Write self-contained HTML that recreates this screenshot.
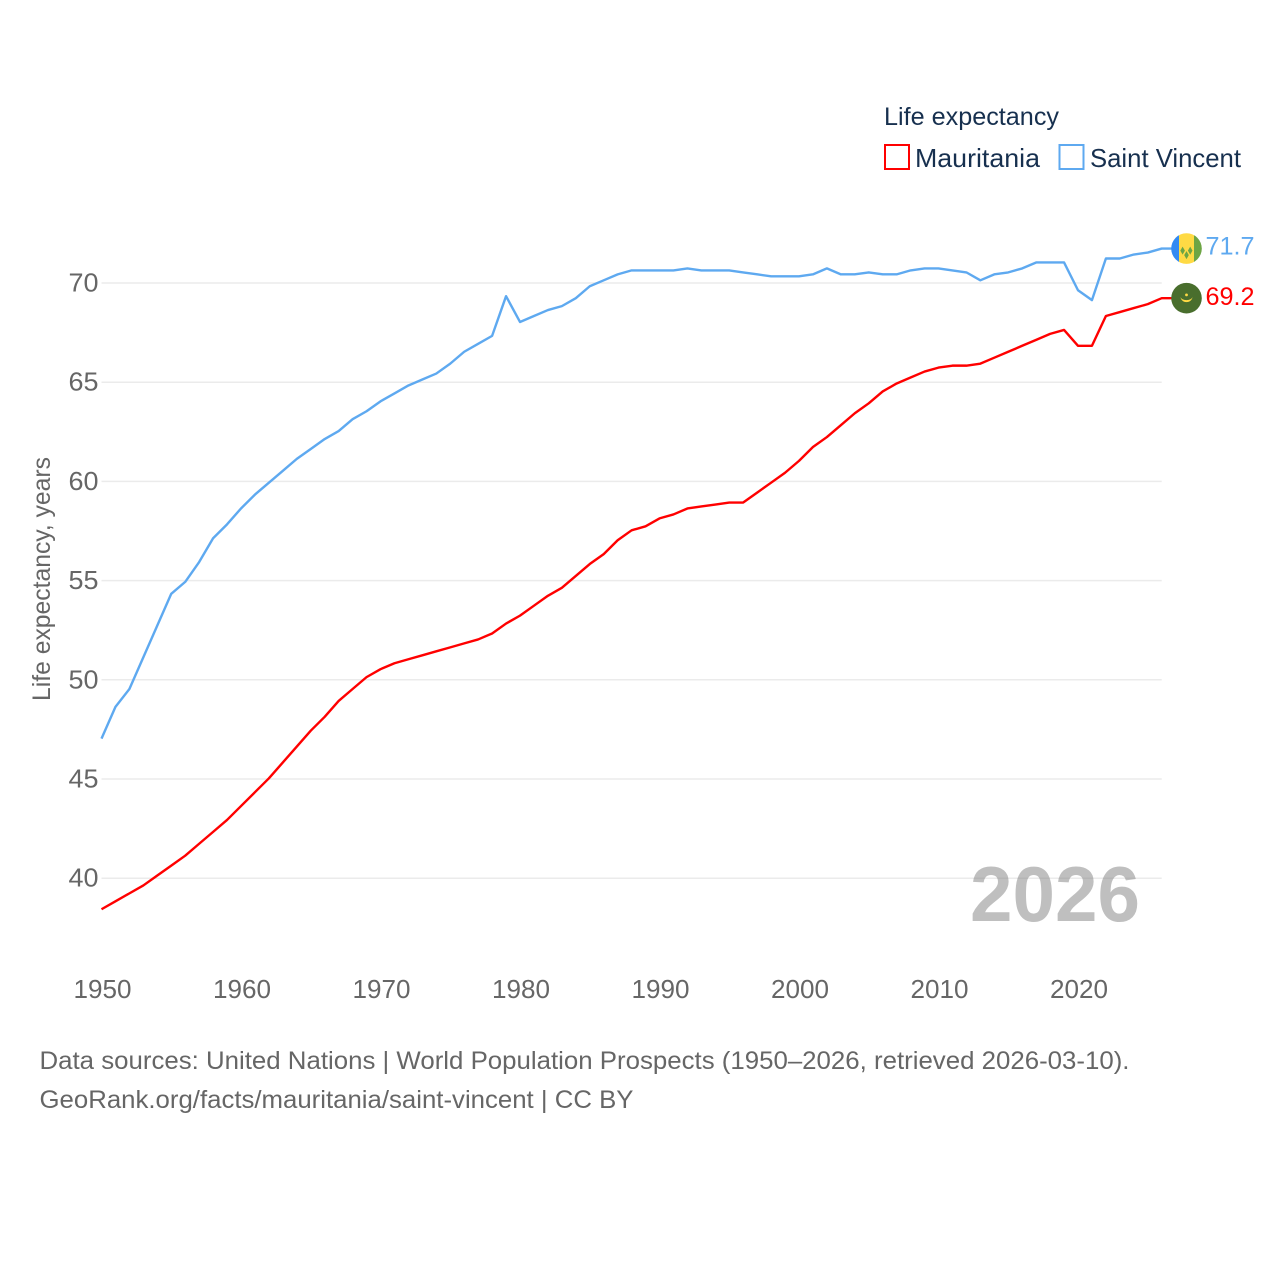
<!DOCTYPE html>
<html lang="en">
<head>
<meta charset="utf-8">
<title>Life expectancy: Mauritania and Saint Vincent</title>
<style>
html,body{margin:0;padding:0;background:#fff}
svg{display:block}
text{font-family:"Liberation Sans",sans-serif}
</style>
</head>
<body>
<svg id="chart" xmlns="http://www.w3.org/2000/svg" width="1280" height="1280" viewBox="0 0 1280 1280">
  <rect width="1280" height="1280" fill="#fff"/>
  <g id="gridlines"></g>
  <g id="y-ticks"></g>
  <g id="x-ticks"></g>
  <text transform="translate(50,701) rotate(-90)" font-size="25" fill="#666" textLength="244" lengthAdjust="spacingAndGlyphs">Life expectancy, years</text>
  <text x="970" y="921" font-size="78" font-weight="bold" fill="#7f7f7f" fill-opacity="0.5" textLength="170" lengthAdjust="spacingAndGlyphs">2026</text>
  <g id="series" transform="translate(0,-0.7)"></g>

  <g id="flag-sv">
    <clipPath id="sv-clip"><circle cx="0" cy="0" r="15.300"/></clipPath>
    <g clip-path="url(#sv-clip)">
      <rect x="-16" y="-16" width="8.500" height="32" fill="#338af3"/>
      <rect x="-7.500" y="-16" width="15" height="32" fill="#ffda44"/>
      <rect x="7.500" y="-16" width="8.500" height="32" fill="#6da544"/>
      <path d="M-6.200 2l2.300-4 2.300 4-2.300 4zM1.400 2l2.300-4 2.300 4-2.300 4zM-2.300 6.500l2.300-4 2.300 4-2.300 4z" fill="#6da544"/>
    </g>
  </g>
  <g id="flag-mr">
    <circle cx="0" cy="0" r="15.300" fill="#496e2d"/>
    <path d="M-6 -1.500a6 5.500 0 0 0 12 0a6 3.400 0 0 1 -12 0z" fill="#ffda44"/>
    <circle cx="0" cy="-3.300" r="1.400" fill="#ffda44"/>
  </g>
  <g id="end-labels"></g>

  <g>
    <text x="884" y="125" font-size="25" fill="#17304f" textLength="175" lengthAdjust="spacingAndGlyphs">Life expectancy</text>
    <g>
      <rect x="885" y="145" width="24" height="24" fill="#fff" stroke="#ff0000" stroke-width="2"/>
      <text x="915" y="167" font-size="26" fill="#17304f" textLength="125" lengthAdjust="spacingAndGlyphs">Mauritania</text>
    </g>
    <g>
      <rect x="1059.500" y="145" width="24" height="24" fill="#fff" stroke="#5ea9f0" stroke-width="2"/>
      <text x="1090" y="167" font-size="26" fill="#17304f" textLength="151" lengthAdjust="spacingAndGlyphs">Saint Vincent</text>
    </g>
  </g>

  <text x="39.500" y="1069" font-size="25" fill="#666" textLength="1090" lengthAdjust="spacingAndGlyphs">Data sources: United Nations | World Population Prospects (1950–2026, retrieved 2026-03-10).</text>
  <text x="39.500" y="1108" font-size="25" fill="#666" textLength="594" lengthAdjust="spacingAndGlyphs">GeoRank.org/facts/mauritania/saint-vincent | CC BY</text>
</svg>
<script>
const firstYear = 1950;
const mauritaniaValues = [38.4,38.8,39.2,39.6,40.1,40.6,41.1,41.7,42.3,42.9,43.6,44.3,45.0,45.8,46.6,47.4,48.1,48.9,49.5,50.1,50.5,50.8,51.0,51.2,51.4,51.6,51.8,52.0,52.3,52.8,53.2,53.7,54.2,54.6,55.2,55.8,56.3,57.0,57.5,57.7,58.1,58.3,58.6,58.7,58.8,58.9,58.9,59.4,59.9,60.4,61.0,61.7,62.2,62.8,63.4,63.9,64.5,64.9,65.2,65.5,65.7,65.8,65.8,65.9,66.2,66.5,66.8,67.1,67.4,67.6,66.8,66.8,68.3,68.5,68.7,68.9,69.2];
const saintVincentValues = [47.0,48.6,49.5,51.1,52.7,54.3,54.9,55.9,57.1,57.8,58.6,59.3,59.9,60.5,61.1,61.6,62.1,62.5,63.1,63.5,64.0,64.4,64.8,65.1,65.4,65.9,66.5,66.9,67.3,69.3,68.0,68.3,68.6,68.8,69.2,69.8,70.1,70.4,70.6,70.6,70.6,70.6,70.7,70.6,70.6,70.6,70.5,70.4,70.3,70.3,70.3,70.4,70.7,70.4,70.4,70.5,70.4,70.4,70.6,70.7,70.7,70.6,70.5,70.1,70.4,70.5,70.7,71.0,71.0,71.0,69.6,69.1,71.2,71.2,71.4,71.5,71.7];
const yTickValues = [40,45,50,55,60,65,70];
const xTickValues = [1950,1960,1970,1980,1990,2000,2010,2020];

const NS = 'http://www.w3.org/2000/svg';
const xScale = function (year) { return 101.5 + (year - 1950) * 13.95; };
const yScale = function (value) { return 283 + (70 - value) * 19.84; };

function make(tag, parent) {
  const el = document.createElementNS(NS, tag);
  parent.appendChild(el);
  return el;
}

const gridGroup = document.getElementById('gridlines');
const yTickGroup = document.getElementById('y-ticks');
yTickValues.forEach(function (v) {
  const line = make('line', gridGroup);
  
  
  line.setAttribute('x1', 101.5);
  line.setAttribute('x2', 1161.7);
  line.setAttribute('y1', yScale(v));
  line.setAttribute('y2', yScale(v));
  line.setAttribute('stroke', '#ebebeb');
  line.setAttribute('stroke-width', 1.5);
  const label = make('text', yTickGroup);
  
  
  label.setAttribute('x', 98.5);
  label.setAttribute('y', yScale(v) + 8.5);
  label.setAttribute('text-anchor', 'end');
  label.setAttribute('font-size', 26);
  label.setAttribute('fill', '#666');
  label.setAttribute('textLength', 30);
  label.setAttribute('lengthAdjust', 'spacingAndGlyphs');
  label.textContent = String(v);
});

const xTickGroup = document.getElementById('x-ticks');
xTickValues.forEach(function (year) {
  const label = make('text', xTickGroup);
  
  
  label.setAttribute('x', xScale(year) + 1);
  label.setAttribute('y', 998);
  label.setAttribute('text-anchor', 'middle');
  label.setAttribute('font-size', 26);
  label.setAttribute('fill', '#666');
  label.setAttribute('textLength', 58);
  label.setAttribute('lengthAdjust', 'spacingAndGlyphs');
  label.textContent = String(year);
});

function linePoints(values) {
  const pts = values.map(function (v, i) {
    return xScale(firstYear + i).toFixed(2) + ',' + yScale(v).toFixed(2);
  });
  const lastValue = values[values.length - 1];
  pts.push('1172,' + yScale(lastValue).toFixed(2));
  return pts.join(' ');
}

const seriesGroup = document.getElementById('series');
const mauritaniaLine = make('polyline', seriesGroup);


mauritaniaLine.setAttribute('points', linePoints(mauritaniaValues));
mauritaniaLine.setAttribute('fill', 'none');
mauritaniaLine.setAttribute('stroke', '#ff0000');
mauritaniaLine.setAttribute('stroke-width', 2.4);
mauritaniaLine.setAttribute('stroke-linejoin', 'round');

const saintVincentLine = make('polyline', seriesGroup);


saintVincentLine.setAttribute('points', linePoints(saintVincentValues));
saintVincentLine.setAttribute('fill', 'none');
saintVincentLine.setAttribute('stroke', '#5ea9f0');
saintVincentLine.setAttribute('stroke-width', 2.4);
saintVincentLine.setAttribute('stroke-linejoin', 'round');

const svLast = saintVincentValues[saintVincentValues.length - 1];
const mrLast = mauritaniaValues[mauritaniaValues.length - 1];
document.getElementById('flag-sv').setAttribute('transform', 'translate(1186.5,' + (yScale(svLast) - 0.7) + ')');
document.getElementById('flag-mr').setAttribute('transform', 'translate(1186.5,' + (yScale(mrLast) - 0.7) + ')');

const endGroup = document.getElementById('end-labels');
const svLabel = make('text', endGroup);


svLabel.setAttribute('x', 1205.5);
svLabel.setAttribute('y', yScale(svLast) + 5.2);
svLabel.setAttribute('font-size', 25);
svLabel.setAttribute('fill', '#5ea9f0');
svLabel.setAttribute('textLength', 49);
svLabel.setAttribute('lengthAdjust', 'spacingAndGlyphs');
svLabel.textContent = svLast.toFixed(1);

const mrLabel = make('text', endGroup);


mrLabel.setAttribute('x', 1205.5);
mrLabel.setAttribute('y', yScale(mrLast) + 6);
mrLabel.setAttribute('font-size', 25);
mrLabel.setAttribute('fill', '#ff0000');
mrLabel.setAttribute('textLength', 49);
mrLabel.setAttribute('lengthAdjust', 'spacingAndGlyphs');
mrLabel.textContent = mrLast.toFixed(1);
</script>
</body>
</html>
